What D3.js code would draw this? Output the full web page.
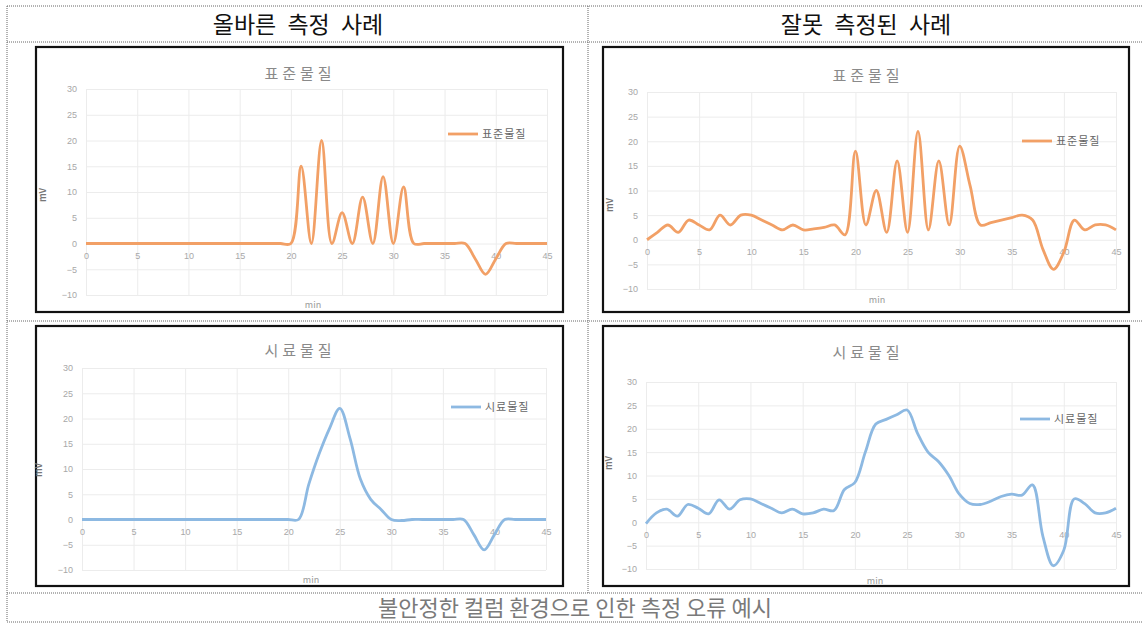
<!DOCTYPE html>
<html><head><meta charset="utf-8">
<script src="https://cdn.jsdelivr.net/npm/d3@7"></script>
<style>
html,body{margin:0;padding:0;background:#fff;}
svg{display:block;font-family:"Noto Sans CJK KR","Noto Sans",sans-serif;}
</style></head>
<body>
<svg id="c" width="1142" height="629"></svg>
<script>
// ---- data ----
const minutes = [0,1,2,3,4,5,6,7,8,9,10,11,12,13,14,15,16,17,18,19,20,21,22,23,24,25,26,27,28,29,30,31,32,33,34,35,36,37,38,39,40,41,42,43,44,45];
const correctStandard = [0,0,0,0,0,0,0,0,0,0,0,0,0,0,0,0,0,0,0,0,0,15,0,20,0,6,0,9,0,13,0,11,0,0,0,0,0,0,-3,-6,-3,0,0,0,0,0];
const wrongStandard = [0,1.5,3,1.5,4,3,2,5,3,5,5,4,3,2,3,2,2.2,2.5,3,1,18,3,10,1.5,16,1.5,22,2,16,3,19,11,3,3.5,4,4.5,5,4,-2,-6,-2.5,4,2,3,3,2];
const correctSample = [0,0,0,0,0,0,0,0,0,0,0,0,0,0,0,0,0,0,0,0,0,0,7,13,18,22,16,8,4,2,0,-0.2,0,0,0,0,0,0,-3,-6,-3,0,0,0,0,0];
const wrongSample = [-0.3,2,2.8,1.3,3.8,3,1.8,4.8,2.8,4.8,5,4,3,2,2.8,1.8,2,2.8,2.5,7,8.5,15,21,22,23,24,19,15,13,10,6,4,3.8,4.5,5.5,6,5.8,8,-3,-9.3,-6,5,4,2,2,3];
const xTicks = [0,5,10,15,20,25,30,35,40,45];
const yTicks = [-10,-5,0,5,10,15,20,25,30];
const headerLabels = ["올바른 측정 사례","잘못 측정된 사례"];
const footerLabel = "불안정한 컬럼 환경으로 인한 측정 오류 예시";
const chartTitles = ["표준물질","표준물질","시료물질","시료물질"];
const xTitle = "min", yTitle = "mV";

// ---- layout ----
const svg = d3.select("#c");
const dotted = {stroke:"#666","stroke-width":1,"stroke-dasharray":"1,1"};
function dline(x1,y1,x2,y2){
  const l = svg.append("line").attr("x1",x1).attr("y1",y1).attr("x2",x2).attr("y2",y2);
  Object.entries(dotted).forEach(([k,v])=>l.attr(k,v));
}
// table lines
dline(7,6,1142,6);
dline(7,42,1142,42);
dline(7,321,1142,321);
dline(7,593,1142,593);
dline(7,622,1142,622);
dline(7,6,7,622);
dline(588,6,588,593);

svg.append("text").attr("x",298).attr("y",33).attr("text-anchor","middle")
  .attr("font-size",23).attr("word-spacing",6).attr("fill","#111").text(headerLabels[0]);
svg.append("text").attr("x",866).attr("y",33).attr("text-anchor","middle")
  .attr("font-size",23).attr("word-spacing",6).attr("fill","#111").text(headerLabels[1]);
svg.append("text").attr("x",575).attr("y",616).attr("text-anchor","middle")
  .attr("font-size",22).attr("fill","#7a7a7a").text(footerLabel);

const panels = [
  {fx:36, fy:47, fw:527, fh:265, px0:86, px1:547, py30:89, pym10:295, tx:300, ty:79,
   lx:448, ly:134, mvx:46, mvy:195, minx:313, miny:308, data:correctStandard, color:"#F2A066", title:chartTitles[0]},
  {fx:603, fy:47, fw:526, fh:265, px0:647, px1:1116, py30:92, pym10:289, tx:868, ty:81,
   lx:1022, ly:141, mvx:613, mvy:205, minx:877, miny:303, data:wrongStandard, color:"#F2A066", title:chartTitles[1]},
  {fx:36, fy:326, fw:527, fh:260, px0:82, px1:546, py30:368, pym10:570, tx:300, ty:356,
   lx:451, ly:407, mvx:42, mvy:470, minx:311, miny:583, data:correctSample, color:"#8DB9E2", title:chartTitles[2]},
  {fx:603, fy:326, fw:526, fh:260, px0:646, px1:1116, py30:382, pym10:569, tx:868, ty:358,
   lx:1020, ly:419, mvx:612, mvy:463, minx:875, miny:584, data:wrongSample, color:"#8DB9E2", title:chartTitles[3]}
];

panels.forEach(p=>{
  const g = svg.append("g");
  g.append("rect").attr("x",p.fx).attr("y",p.fy).attr("width",p.fw).attr("height",p.fh)
    .attr("fill","#fff").attr("stroke","#111").attr("stroke-width",2.2);
  const x = d3.scaleLinear().domain([0,45]).range([p.px0,p.px1]);
  const y = d3.scaleLinear().domain([-10,30]).range([p.pym10,p.py30]);
  // gridlines
  g.append("g").attr("transform",`translate(0,${p.pym10})`)
    .call(d3.axisBottom(x).tickValues(xTicks).tickSize(-(p.pym10-p.py30)).tickFormat(""))
    .call(s=>{s.select(".domain").remove(); s.selectAll("line").attr("stroke","#ececec");});
  g.append("g").attr("transform",`translate(${p.px0},0)`)
    .call(d3.axisLeft(y).tickValues(yTicks).tickSize(-(p.px1-p.px0)).tickFormat(""))
    .call(s=>{s.select(".domain").remove(); s.selectAll("line").attr("stroke","#ececec");});
  // y labels
  g.append("g").attr("transform",`translate(${p.px0},0)`)
    .call(d3.axisLeft(y).tickValues(yTicks).tickSize(0).tickPadding(9))
    .call(s=>{s.select(".domain").remove(); s.selectAll("text").attr("fill","#a8a8a8").attr("font-size",9).attr("font-family","Liberation Sans, sans-serif");});
  // x labels at zero line
  g.append("g").attr("transform",`translate(0,${y(0)})`)
    .call(d3.axisBottom(x).tickValues(xTicks).tickSize(0).tickPadding(9))
    .call(s=>{s.select(".domain").remove(); s.selectAll("text").attr("fill","#a8a8a8").attr("font-size",9).attr("font-family","Liberation Sans, sans-serif");});
  // title
  g.append("text").attr("x",p.tx).attr("y",p.ty).attr("text-anchor","middle")
    .attr("font-size",15).attr("letter-spacing",4).attr("fill","#8a8a8a").text(p.title);
  // axis titles
  g.append("text").attr("transform",`translate(${p.mvx},${p.mvy}) rotate(-90)`).attr("text-anchor","middle")
    .attr("font-size",9).attr("font-weight","bold").attr("fill","#777").text(yTitle);
  g.append("text").attr("x",p.minx).attr("y",p.miny).attr("text-anchor","middle")
    .attr("font-size",9).attr("fill","#999").text(xTitle);
  // line
  const line = d3.line().x((d,i)=>x(minutes[i])).y(d=>y(d)).curve(d3.curveCatmullRom.alpha(0.5));
  g.append("path").datum(p.data).attr("d",line).attr("fill","none")
    .attr("stroke",p.color).attr("stroke-width",2.8).attr("stroke-linejoin","round");
  // legend
  g.append("line").attr("x1",p.lx).attr("x2",p.lx+30).attr("y1",p.ly).attr("y2",p.ly)
    .attr("stroke",p.color).attr("stroke-width",2.8);
  g.append("text").attr("x",p.lx+34).attr("y",p.ly+4).attr("font-size",11).attr("letter-spacing",1)
    .attr("fill","#666").text(p.title);
});
</script>
</body></html>
